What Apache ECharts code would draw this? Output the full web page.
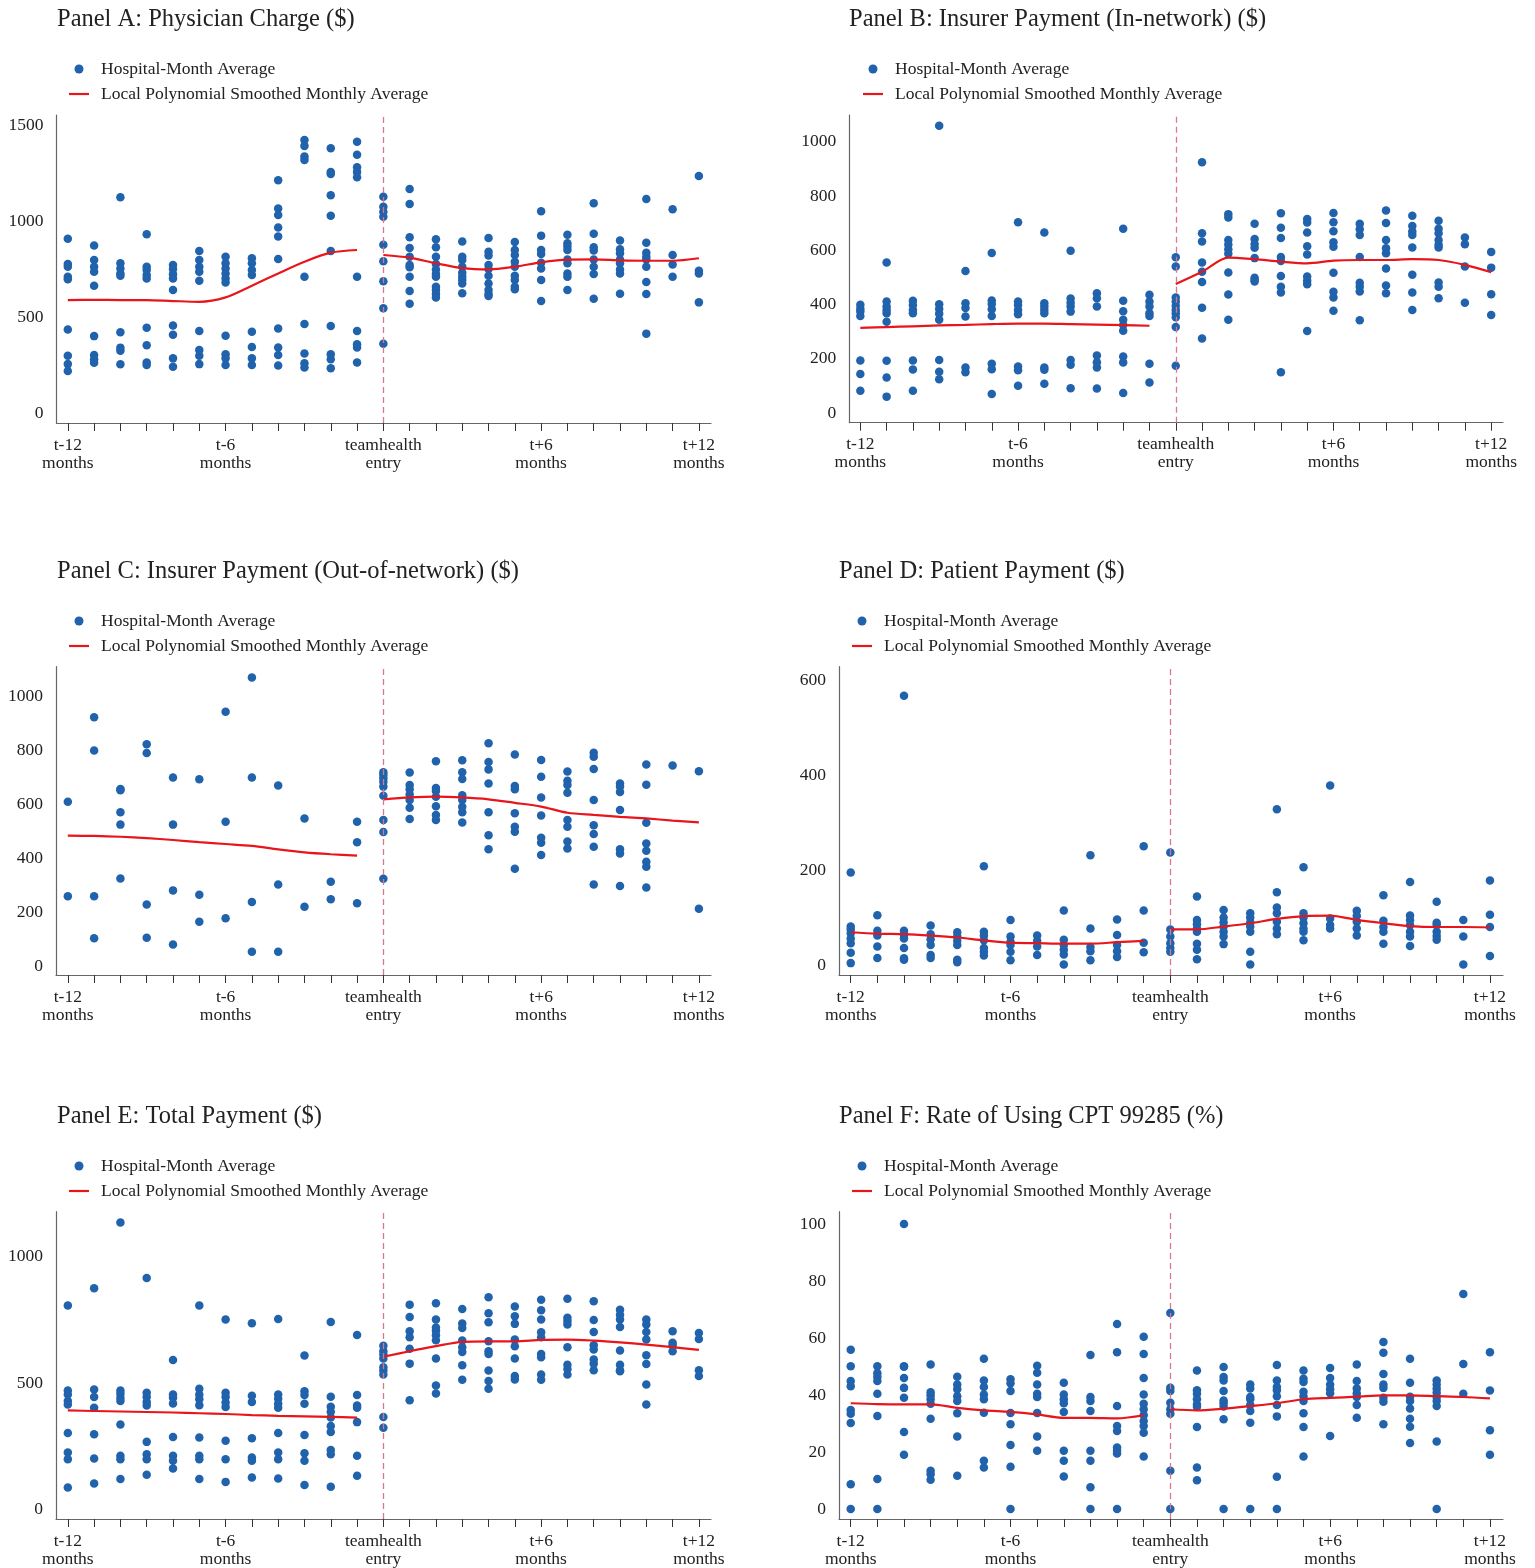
<!DOCTYPE html>
<html><head><meta charset="utf-8">
<script src="https://cdn.jsdelivr.net/npm/echarts@6/dist/echarts.min.js"></script>
<style>html,body{margin:0;padding:0;background:#fff}#c{width:1535px;height:1568px}</style>
</head><body><div id="c"></div>
<script>
// ---------- DATA ----------
const months = [-12,-11,-10,-9,-8,-7,-6,-5,-4,-3,-2,-1,0,1,2,3,4,5,6,7,8,9,10,11,12];
const preMonths = [-12,-11,-10,-9,-8,-7,-6,-5,-4,-3,-2,-1];
const postMonths = [0,1,2,3,4,5,6,7,8,9,10,11,12];
const xTickValues = [-12,-6,0,6,12];
const xTickText = ['t-12\nmonths','t-6\nmonths','teamhealth\nentry','t+6\nmonths','t+12\nmonths'];

const titles = ['Panel A: Physician Charge ($)','Panel B: Insurer Payment (In-network) ($)','Panel C: Insurer Payment (Out-of-network) ($)','Panel D: Patient Payment ($)','Panel E: Total Payment ($)','Panel F: Rate of Using CPT 99285 (%)'];
const scatterName = 'Hospital-Month Average';
const lineName = 'Local Polynomial Smoothed Monthly Average';

const yTicksA = [0,500,1000,1500];
const yTicksB = [0,200,400,600,800,1000];
const yTicksC = [0,200,400,600,800,1000];
const yTicksD = [0,200,400,600];
const yTicksE = [0,500,1000];
const yTicksF = [0,20,40,60,80,100];

// points per month (-12 .. 12)
const pointsA = [
 [911,779,765,713,699,438,301,257,221],[875,800,765,739,666,403,304,282,264],[1127,783,756,730,718,423,343,327,256],
 [934,765,748,722,704,447,355,266,252],[774,753,725,704,643,459,410,287,243],[847,800,765,739,692,430,330,301,257],
 [817,783,756,730,704,682,405,308,287,252],[809,783,748,722,426,346,287,252],[1216,1068,1035,969,922,805,443,344,304,250],
 [1426,1395,1339,1322,713,466,313,261,240],[1383,1259,1249,1137,1031,847,456,308,282,235],[1416,1349,1283,1259,1231,713,430,360,344,266],
 [1130,1078,1052,1026,880,793,689,548,363],
 [1170,1092,918,863,817,774,762,713,638,572],[908,866,817,779,751,727,713,661,643,623,605],[896,817,800,765,734,713,696,678,626],
 [915,843,823,774,753,718,678,643,623,612],[894,852,826,791,765,718,696,661,647],[1054,927,852,831,786,756,696,586],
 [932,887,870,852,803,783,730,713,643],[1096,937,866,849,803,765,727,598],[901,856,835,803,783,751,730,624],
 [1118,890,838,817,803,765,685,623,416],[1064,826,777,713],[1238,744,730,579]
];
const smoothApre = [591,592,591,591,586,582,605,666,730,791,838,852];
const smoothApost = [826,812,783,758,751,765,788,802,803,798,796,796,809];

const pointsB = [
 [399,385,374,358,194,144,83],[555,411,393,380,368,337,193,131,61],[414,398,380,368,194,161,83],
 [1058,401,384,366,344,196,153,125],[524,405,387,356,168,151],[590,415,402,383,358,182,162,71],
 [703,411,398,380,364,172,158,101],[665,405,393,380,368,168,160,108],[598,422,407,393,374,196,178,92],
 [442,423,393,212,188,168,91],[679,414,375,344,325,304,209,187,74],[436,411,393,368,358,182,113],
 [574,540,426,411,396,380,368,353,317,175],
 [924,663,632,555,521,483,388,275],[733,721,638,621,604,587,518,437,344],[698,641,623,609,571,499,491,485],
 [736,683,645,575,560,505,466,444,151],[715,702,665,615,584,503,488,475,303],[737,703,670,629,613,517,447,426,377],
 [698,677,656,575,480,466,448,342],[746,700,638,607,589,533,470,442],[727,689,669,656,610,510,444,380],
 [709,679,663,638,620,610,481,466,423],[647,622,540,407],[594,536,438,362]
];
const smoothBpre = [314,317,320,323,325,328,330,330,328,326,324,322];
const smoothBpost = [476,521,573,567,558,552,562,564,564,567,564,546,519];

const pointsC = [
 [610,259],[923,800,259,103],[657,653,571,525,325],[823,791,229,105],[700,525,281,80],[693,265,165],
 [944,536,178],[1071,700,238,53],[670,303,53],[548,220],[313,248],[536,460,233],
 [719,709,697,684,666,632,542,498,324],
 [718,672,656,637,616,588,546],[760,661,650,628,593,561,542],[764,719,694,634,616,591,571,533],
 [827,757,730,678,571,486,434],[785,668,656,567,517,499,361],[765,703,626,559,476,458,412],
 [722,688,672,643,542,517,462,436],[792,777,731,616,523,490,443,303],[678,666,646,579,434,418,297],
 [748,673,532,455,428,387,369,292],[744],[723,213]
];
const smoothCpre = [484,483,480,475,468,460,453,446,433,422,415,410];
const smoothCpost = [619,626,629,626,619,606,592,569,561,554,548,540,533];

const pointsD = [
 [195,81,75,67,56,46,26,4],[105,72,62,39,15],[567,72,63,56,36,14,11],[83,65,54,42,21,15],[69,60,51,42,11,6],
 [208,70,62,52,36,28,20],[95,60,49,42,28,10],[62,51,39,21],[115,53,42,32,22,1],[231,77,38,29,10],
 [96,63,42,29,17],[250,115,47,27],
 [237,75,60,46,36,28],
 [144,95,86,77,70,45,32,12],[116,100,90,81,70,60,44],[109,100,90,81,70,28,1],[328,153,121,109,91,77,65],
 [206,109,100,88,77,70,52],[378,98,84,77],[114,103,91,77,62],[147,93,80,70,45],[175,104,95,84,70,60,40],
 [133,89,84,70,61,53],[95,60,1],[178,106,80,19]
];
const smoothDpre = [69,66,65,62,58,52,47,46,45,45,48,51];
const smoothDpost = [75,75,81,88,97,103,104,95,88,82,80,80,79];

const pointsE = [
 [807,471,455,429,416,303,226,199,88],[875,475,445,403,298,202,104],[1134,471,458,442,429,337,213,199,121],
 [915,462,445,425,412,268,219,199,138],[591,455,442,420,287,213,193,163],[807,478,455,436,413,285,213,199,121],
 [751,462,445,423,406,272,199,110],[736,450,425,282,206,193,127],[753,455,438,419,403,303,226,199,123],
 [609,468,453,419,295,223,193,98],[741,446,407,387,364,331,307,236,219,91],[690,453,412,403,346,213,134],
 [648,626,613,597,563,550,534,366,324],
 [810,761,705,681,636,577,432],[815,751,720,707,689,669,597,491,459],[793,735,718,668,642,623,571,513],
 [839,776,740,665,626,615,550,508,478],[803,764,734,672,646,597,528,514],[829,788,751,701,681,615,602,534,513],
 [833,758,745,732,642,573,556,534],[823,749,702,650,633,593,577,551],[790,770,751,722,629,573,551,547],
 [751,732,702,672,610,576,495,416],[705,659,650,626],[698,674,551,528]
];
const smoothEpre = [392,390,388,386,384,381,378,374,371,369,367,364];
const smoothEpost = [604,626,646,663,665,665,671,672,668,661,652,642,631];

const pointsF = [
 [55.9,50.1,44.9,43.1,34.7,33.4,30.2,8.7,0],[50.1,47.6,46.3,44.9,40.4,32.6,10.5,0],[100,50.1,49.9,46,42.5,39,27,19],
 [50.7,41,39.9,38.5,36.9,31.7,13.4,12.2,10.3],[46.4,43.7,42,39.6,37.9,33.6,25.4,11.7],[52.7,45.1,42.8,40.2,38.5,33.8,16.9,14.6],
 [45.5,44.1,41.4,33.7,29.7,22.5,14.8,0],[50.3,47.8,43.7,40.4,39.3,33.7,25.4,20.4],[44.3,40.2,38.5,37.1,34,20.4,16.9,11.4],
 [54,39.3,37.9,34.4,20.4,16.9,7.6,0],[64.9,55,36.1,29.1,27.4,21.6,20.4,19.5,0],[60.4,54.4,46,40.2,36.9,35,32.9,30.9,29.1,26.8,18.4],
 [68.8,42.5,41.4,37.3,35,33.4,13.4,0],
 [48.6,41.7,40.4,38.5,36.7,35.9,28.8,14.6,10.1],[49.8,46.3,45.1,41.4,38.1,37.1,36,31.5,0],[43.7,42.3,39.3,38.5,36.5,34.4,30.3,0],
 [50.5,45.1,42.8,41.7,39.6,36.5,32.5,11.3,0],[48.6,45.7,44.6,41.1,39.6,37.9,33.6,28.8,18.4],[49.5,46,43.7,42,40.6,25.6],
 [50.7,44.9,42.3,40.6,39.3,36.5,32],[58.6,54.8,47.4,43.7,42.5,39,37.6,29.7],[52.7,44.3,39.4,37.9,35.3,31.7,28.9,23.2],
 [45.1,43.7,42.2,40.8,39.3,37.9,36.1,23.7,0],[75.4,50.9,40.4],[55,41.6,27.6,19]
];
const smoothFpre = [37.1,36.8,36.7,36.7,35.5,34.6,34.1,33.2,32,32,31.8,32.9];
const smoothFpost = [35,34.6,35.2,36.1,37.1,38.5,39,39.4,39.9,39.9,39.6,39.3,38.8];

// ---------- LAYOUT ----------
const FONT = '"Liberation Serif","Times New Roman","DejaVu Serif",serif';
const TXT = '#222';
const BLUE = '#2062ab';
const RED = '#e8151b';
const AXIS = '#666';

const panels = [
 {pts:pointsA, pre:smoothApre, post:smoothApost, yt:yTicksA, left:56.5, top:115, w:654.5, h:308, xmin:-12.43, xmax:12.46, ymin:-50, ymax:1556, tx:57, ty:7, lx:69, ly:60},
 {pts:pointsB, pre:smoothBpre, post:smoothBpost, yt:yTicksB, left:849.3, top:115, w:653.7, h:307.7, xmin:-12.42, xmax:12.45, ymin:-35, ymax:1098, tx:849, ty:7, lx:863, ly:60},
 {pts:pointsC, pre:smoothCpre, post:smoothCpost, yt:yTicksC, left:56, top:666.7, w:655, h:308.3, xmin:-12.45, xmax:12.46, ymin:-33, ymax:1111, tx:57, ty:559, lx:69, ly:612},
 {pts:pointsD, pre:smoothDpre, post:smoothDpost, yt:yTicksD, left:839, top:666.7, w:664, h:308.3, xmin:-12.44, xmax:12.49, ymin:-21, ymax:628, tx:839, ty:559, lx:852, ly:612},
 {pts:pointsE, pre:smoothEpre, post:smoothEpost, yt:yTicksE, left:56, top:1211.7, w:655, h:308.3, xmin:-12.45, xmax:12.46, ymin:-36.6, ymax:1177, tx:57, ty:1104, lx:69, ly:1157},
 {pts:pointsF, pre:smoothFpre, post:smoothFpost, yt:yTicksF, left:839, top:1211.7, w:664, h:308.3, xmin:-12.44, xmax:12.49, ymin:-3.5, ymax:104.3, tx:839, ty:1104, lx:852, ly:1157}
];

const grid=[], xAxis=[], yAxis=[], series=[], title=[], legend=[];
const dotIcon = 'path://M5,0A5,5,0,1,1,4.99,0Z';
const lineIcon = 'path://M0,0L20,0L20,2.2L0,2.2Z';

panels.forEach((p,i)=>{
  grid.push({left:p.left, top:p.top, width:p.w, height:p.h, containLabel:false});
  xAxis.push({type:'value', gridIndex:i, min:p.xmin, max:p.xmax,
    axisLine:{show:true, onZero:false, lineStyle:{color:AXIS, width:1.2}},
    axisTick:{show:true, length:8, customValues:months, lineStyle:{color:'#333', width:1}},
    axisLabel:{show:true, customValues:xTickValues, margin:13, fontFamily:FONT, fontSize:17.5, color:TXT, lineHeight:18, align:'center',
      formatter:(v)=>{const k=xTickValues.indexOf(Math.round(v)); return k>=0?xTickText[k]:'';}},
    splitLine:{show:false}});
  yAxis.push({type:'value', gridIndex:i, min:p.ymin, max:p.ymax,
    axisLine:{show:true, onZero:false, lineStyle:{color:AXIS, width:1.2}},
    axisTick:{show:false},
    axisLabel:{show:true, customValues:p.yt, margin:13, fontFamily:FONT, fontSize:17.5, color:TXT, formatter:(v)=>String(Math.round(v))},
    splitLine:{show:false}});
  const data=[];
  months.forEach((m,k)=>{ p.pts[k].forEach(v=>data.push([m,v])); });
  series.push({type:'scatter', name:scatterName, xAxisIndex:i, yAxisIndex:i, data:data, symbol:'circle', symbolSize:8.5,
    itemStyle:{color:BLUE, opacity:1}, z:2, silent:true,
    markLine:{silent:true, symbol:['none','none'], label:{show:false}, animation:false,
      lineStyle:{color:'#d8788e', type:[6,4], width:1.3}, data:[{xAxis:0}]}});
  series.push({type:'line', name:lineName, xAxisIndex:i, yAxisIndex:i, data:preMonths.map((m,k)=>[m,p.pre[k]]),
    showSymbol:false, smooth:0.3, lineStyle:{color:RED, width:2.2}, itemStyle:{color:RED}, z:3, silent:true});
  series.push({type:'line', name:lineName, xAxisIndex:i, yAxisIndex:i, data:postMonths.map((m,k)=>[m,p.post[k]]),
    showSymbol:false, smooth:0.3, lineStyle:{color:RED, width:2.2}, itemStyle:{color:RED}, z:3, silent:true});
  title.push({text:titles[i], left:p.tx, top:p.ty, padding:0, textStyle:{fontFamily:FONT, fontSize:24.5, fontWeight:'normal', color:TXT}});
  legend.push({left:p.lx, top:p.ly, padding:0, orient:'vertical', itemWidth:20, itemHeight:9, itemGap:7, selectedMode:false,
    textStyle:{fontFamily:FONT, fontSize:17.5, color:TXT, lineHeight:18, padding:[0,0,0,7]},
    data:[{name:scatterName, icon:dotIcon, itemStyle:{color:BLUE}}, {name:lineName, icon:lineIcon, itemStyle:{color:RED}}]});
});

const chart = echarts.init(document.getElementById('c'), null, {renderer:'canvas'});
chart.setOption({animation:false, backgroundColor:'#fff', grid, xAxis, yAxis, series, title, legend});
</script></body></html>
